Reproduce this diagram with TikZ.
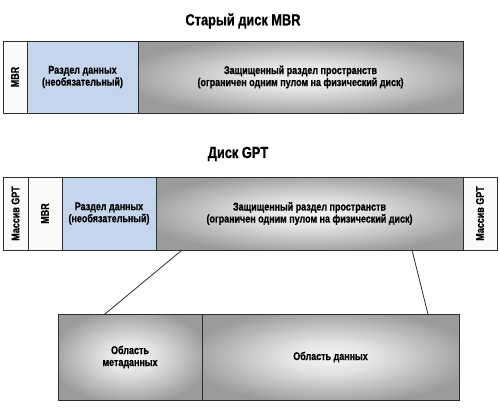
\documentclass[tikz,border=0pt]{standalone}
\usepackage{fontspec}
\setmainfont{Liberation Sans}[FakeStretch=0.80, BoldFeatures={FakeBold=0.8}]
\usetikzlibrary{calc}
\definecolor{bluecell}{RGB}{197,214,236}
\definecolor{graycell}{RGB}{155,155,155}
\definecolor{whitecell}{RGB}{250,250,250}
\definecolor{edge}{RGB}{45,45,45}
\pgfdeclareradialshading{diskshade}{\pgfpoint{0bp}{0bp}}{color(0bp)=(white!96!black); color(9bp)=(white!89!black); color(18bp)=(white!76!black); color(28bp)=(graycell); color(50bp)=(graycell)}
\tikzset{
  cell/.style={draw=edge, line width=0.9pt, inner sep=0pt, outer sep=0pt, anchor=north west, align=center, font=\bfseries\fontsize{11.2}{12}\selectfont},
  wcell/.style={cell, fill=whitecell},
  bcell/.style={cell, fill=bluecell},
  gcell/.style={cell, shade, shading=diskshade},
  title/.style={font=\bfseries\fontsize{16}{18}\selectfont},
  vtext/.style={rotate=90, font=\bfseries\fontsize{11.2}{12}\selectfont},
  link/.style={draw=edge, line width=0.8pt}
}
\begin{document}
\begin{tikzpicture}[x=1pt,y=-1pt]
\useasboundingbox (0,0) rectangle (500,413);
% MBR disk
\node[title] (t1) at (243,21) {Старый диск MBR};
\node[wcell, minimum width=24pt, minimum height=72pt] (m1) at (3,41) {};
\node[vtext] (m1t) at (m1.center) {MBR};
\node[bcell, minimum width=111pt, minimum height=72pt] (d1) at (27,41) {Раздел данных\\(необязательный)};
\node[gcell, minimum width=325pt, minimum height=72pt] (p1) at (138,41) {Защищенный раздел пространств\\(ограничен одним пулом на физический диск)};
% GPT disk
\node[title] (t2) at (238,154) {Диск GPT};
\node[wcell, minimum width=25pt, minimum height=73pt] (g1) at (3,177) {};
\node[vtext] (g1t) at (g1.center) {Массив GPT};
\node[wcell, minimum width=34pt, minimum height=73pt] (m2) at (28,177) {};
\node[vtext] (m2t) at (m2.center) {MBR};
\node[bcell, minimum width=94pt, minimum height=73pt] (d2) at (62,177) {Раздел данных\\(необязательный)};
\node[gcell, minimum width=307pt, minimum height=73pt] (p2) at (156,177) {Защищенный раздел пространств\\(ограничен одним пулом на физический диск)};
\node[wcell, minimum width=34pt, minimum height=73pt] (g2) at (463,177) {};
\node[vtext] (g2t) at (g2.center) {Массив GPT};
% bottom
\node[gcell, minimum width=144pt, minimum height=86pt] (meta) at (58,314) {Область\\метаданных};
\node[gcell, minimum width=257pt, minimum height=86pt] (data) at (202,314) {Область данных};
\draw[link] ($(p2.south west)!0.085!(p2.south east)$) -- ($(meta.north west)!0.326!(meta.north east)$);
\draw[link] ($(p2.south west)!0.834!(p2.south east)$) -- ($(data.north west)!0.879!(data.north east)$);
\end{tikzpicture}
\end{document}
